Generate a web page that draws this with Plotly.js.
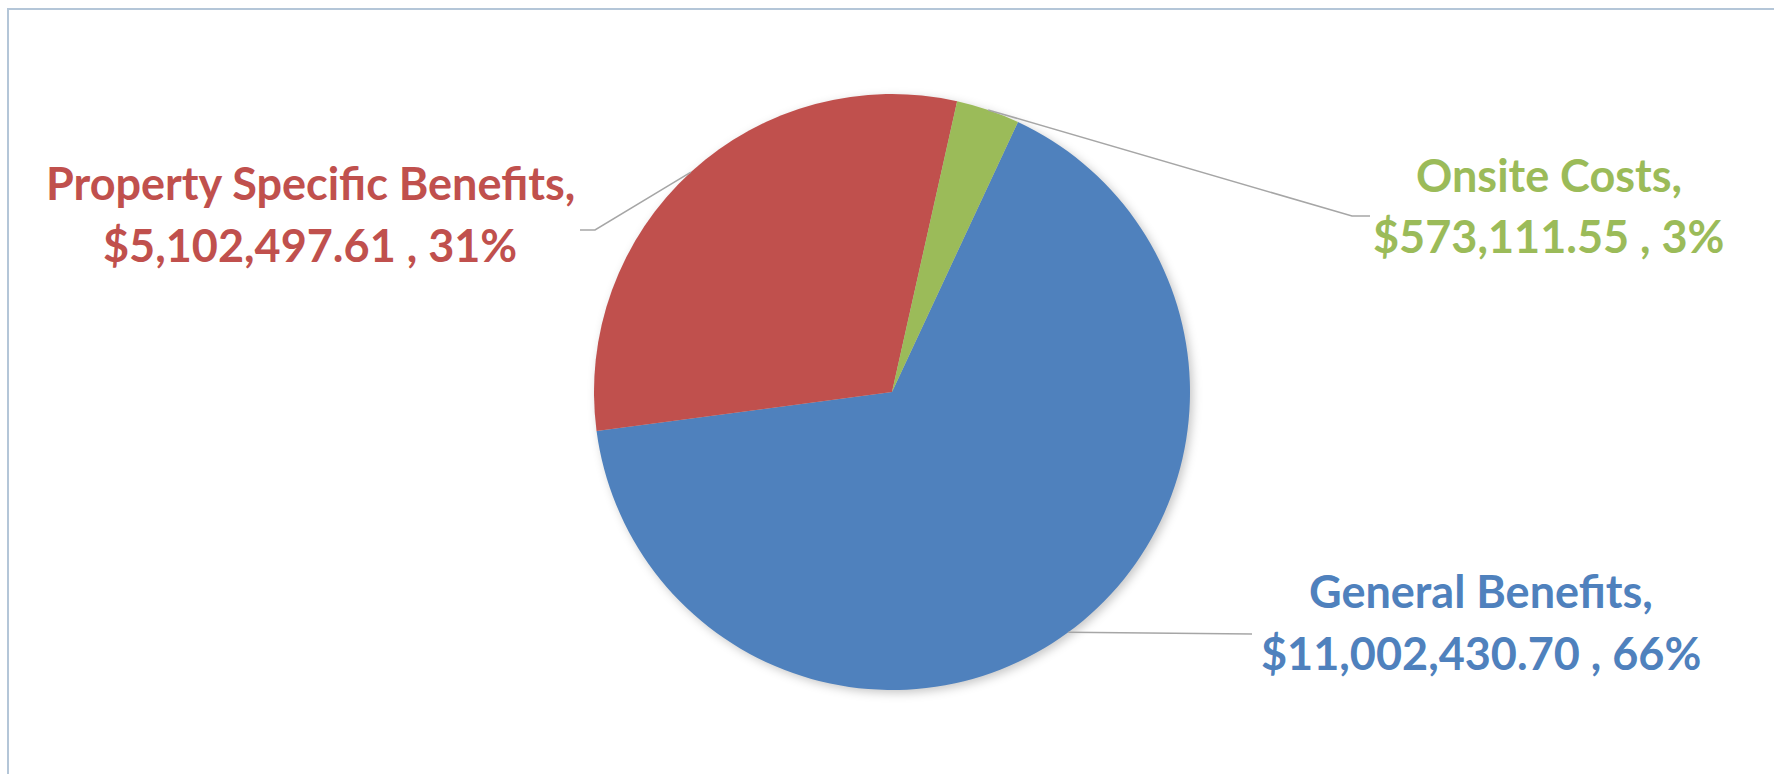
<!DOCTYPE html>
<html>
<head>
<meta charset="utf-8">
<script src="https://cdn.plot.ly/plotly-3.0.1.min.js"></script>
<style>
  html, body { margin: 0; padding: 0; background: #ffffff; }
  #chart { width: 1774px; height: 775px; }
  .pielayer { filter: drop-shadow(3px 3px 5px rgba(0,0,0,0.22)); }
  .annotation-text { font-variant-ligatures: none; }
</style>
</head>
<body>
<div id="chart"></div>
<script>
// ---- data ----
const categories = ['General Benefits', 'Property Specific Benefits', 'Onsite Costs'];
const amounts = [11002430.70, 5102497.61, 573111.55];
const sliceColors = ['#4F81BD', '#C0504D', '#9BBB59'];

// ---- layout constants (pixels) ----
const W = 1774, H = 775;
const CX = 892, CY = 392, R = 298;       // pie centre & radius
const ROT = 25;                            // first slice start, degrees clockwise from 12 o'clock
const FONT = 'Lato, "Open Sans", sans-serif';
const FS = 45;

// label placement per category: text centre x, y of the two line centres, leader elbow & end
const labelPos = [
  { x: 1481, y1: 591, y2: 653, elbow: null,        end: [1252, 634] },
  { x: 310,  y1: 183, y2: 245, elbow: [595, 230],  end: [580, 230] },
  { x: 1549, y1: 175, y2: 236, elbow: [1352, 216], end: [1370, 216] }
];

const px = x => x / W;
const py = y => 1 - y / H;

const total = amounts.reduce((a, b) => a + b, 0);
const fmtMoney = v => '$' + v.toLocaleString('en-US', { minimumFractionDigits: 2, maximumFractionDigits: 2 });
const fmtPct = v => Math.round(100 * v / total) + '%';

const trace = {
  type: 'pie',
  values: amounts,
  labels: categories,
  sort: false,
  direction: 'clockwise',
  rotation: ROT,
  textinfo: 'none',
  hoverinfo: 'label+value+percent',
  showlegend: false,
  marker: { colors: sliceColors, line: { width: 0 } },
  domain: { x: [px(CX - R), px(CX + R)], y: [py(CY + R), py(CY - R)] }
};

const annotations = [];
const shapes = [];
let cum = 0;
amounts.forEach((v, i) => {
  const mid = (ROT + 360 * (cum + v / 2) / total) * Math.PI / 180;
  cum += v;
  const sx = CX + R * Math.sin(mid), sy = CY - R * Math.cos(mid);
  const L = labelPos[i];
  let path = `M ${px(sx)} ${py(sy)}`;
  if (L.elbow) path += ` L ${px(L.elbow[0])} ${py(L.elbow[1])}`;
  path += ` L ${px(L.end[0])} ${py(L.end[1])}`;
  shapes.push({ type: 'path', xref: 'paper', yref: 'paper', path: path,
                line: { color: '#A6A6A6', width: 1.5 } });
  const font = { family: FONT, size: FS, color: sliceColors[i], weight: 'bold' };
  annotations.push({ xref: 'paper', yref: 'paper', x: px(L.x), y: py(L.y1), xanchor: 'center', yanchor: 'middle',
                     text: '<b>' + categories[i] + ',</b>', showarrow: false, font: font });
  annotations.push({ xref: 'paper', yref: 'paper', x: px(L.x), y: py(L.y2), xanchor: 'center', yanchor: 'middle',
                     text: '<b>' + fmtMoney(v) + ' , ' + fmtPct(v) + '</b>', showarrow: false, font: font });
});

// chart-area border (left & top visible)
shapes.push({ type: 'path', xref: 'paper', yref: 'paper',
              path: `M ${px(8)} ${py(774)} L ${px(8)} ${py(9)} L ${px(1774)} ${py(9)}`,
              line: { color: '#B4C6D8', width: 2 } });

const layout = {
  width: W, height: H,
  margin: { l: 0, r: 0, t: 0, b: 0 },
  paper_bgcolor: '#ffffff',
  plot_bgcolor: '#ffffff',
  showlegend: false,
  annotations: annotations,
  shapes: shapes
};

Plotly.newPlot('chart', [trace], layout, { displayModeBar: false, staticPlot: true });
</script>
</body>
</html>
